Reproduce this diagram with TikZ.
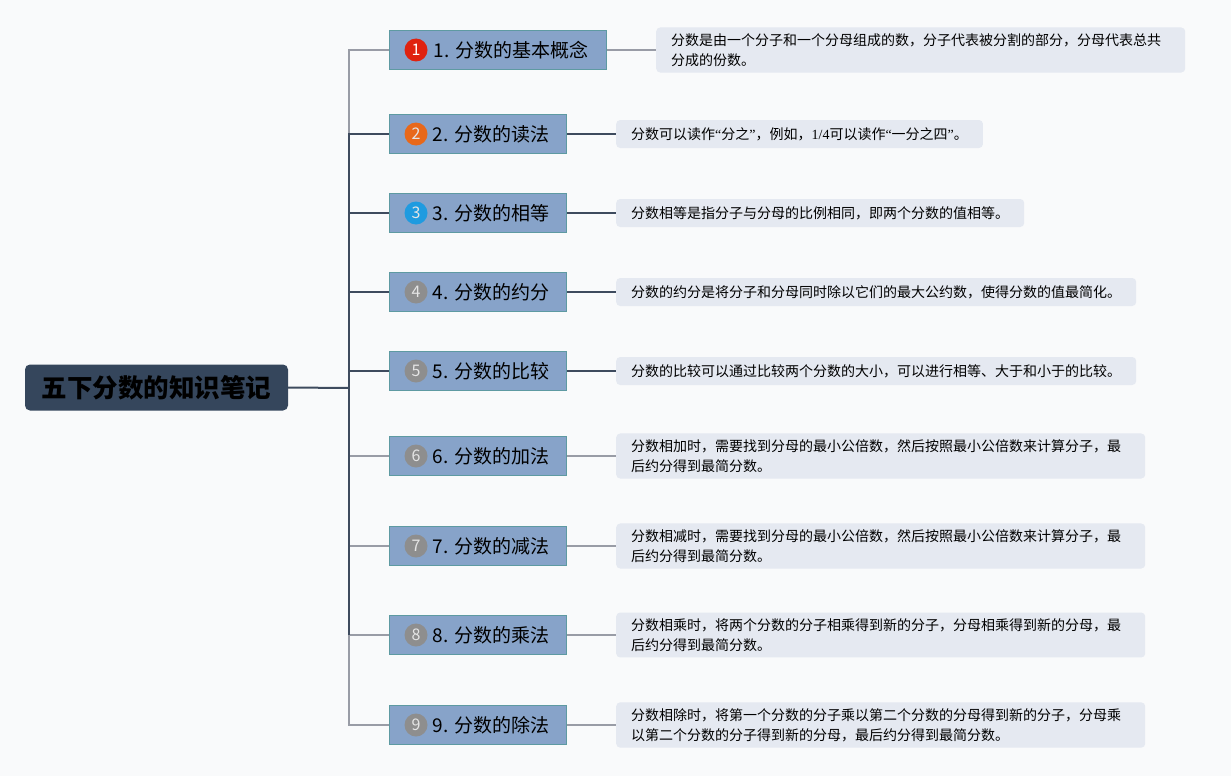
\documentclass[tikz,border=0pt]{standalone}
\usepackage{fontspec}
\setmainfont{Noto Sans CJK SC}
\newfontfamily\latinserif{Liberation Serif}
\usetikzlibrary{positioning}

\definecolor{bgcol}{HTML}{F9FAFB}
\definecolor{rootcol}{HTML}{35465C}
\definecolor{topiccol}{HTML}{87A3C9}
\definecolor{topicedge}{HTML}{5E9AA2}
\definecolor{notecol}{HTML}{E5E9F1}
\definecolor{linedark}{HTML}{3E4B5E}
\definecolor{linegray}{HTML}{999CA6}
\definecolor{badgered}{HTML}{E0220F}
\definecolor{badgeorange}{HTML}{E8681A}
\definecolor{badgeblue}{HTML}{1F9BE0}
\definecolor{badgegray}{HTML}{8E8E8E}

\begin{document}
\begin{tikzpicture}[x=1pt, y=-1pt,
    root/.style={fill=rootcol, rounded corners=5pt, minimum width=263pt, minimum height=46pt,
      font=\bfseries\fontsize{25.5}{30}\selectfont, text=black},
    topic/.style={fill=topiccol, draw=topicedge, line width=1pt, anchor=west, minimum height=39pt,
      minimum width=177pt, inner xsep=4pt, font=\fontsize{19}{23}\selectfont},
    badge/.style={circle, minimum size=23pt, inner sep=0pt, text=white!80!gray,
      font=\fontsize{16}{16}\selectfont},
    note/.style={fill=notecol, rounded corners=4pt, anchor=west, minimum height=28pt,
      inner xsep=15pt, inner ysep=6pt, align=left, font=\fontsize{14}{20}\selectfont},
    dark/.style={draw=linedark, line width=1.3pt},
    light/.style={draw=linegray, line width=1.3pt}]
  \useasboundingbox[fill=bgcol] (0,0) rectangle (1231,776);

  % root
  \node[root] (root) at (156.5,387.5) {五下分数的知识笔记};
  \coordinate (hub) at (349,388);

  % topics
  \node[topic, minimum width=217pt] (b1) at (389,50) {\hspace*{26pt}1. 分数的基本概念};
  \node[topic] (b2) at (389,134) {\hspace*{26pt}2. 分数的读法};
  \node[topic] (b3) at (389,213) {\hspace*{26pt}3. 分数的相等};
  \node[topic] (b4) at (389,292) {\hspace*{26pt}4. 分数的约分};
  \node[topic] (b5) at (389,371) {\hspace*{26pt}5. 分数的比较};
  \node[topic] (b6) at (389,456) {\hspace*{26pt}6. 分数的加法};
  \node[topic] (b7) at (389,546) {\hspace*{26pt}7. 分数的减法};
  \node[topic] (b8) at (389,635) {\hspace*{26pt}8. 分数的乘法};
  \node[topic] (b9) at (389,725) {\hspace*{26pt}9. 分数的除法};

  % badges
  \node[badge, fill=badgered, text=white] (n1) at ([xshift=27pt]b1.west) {1};
  \node[badge, fill=badgeorange] (n2) at ([xshift=27pt]b2.west) {2};
  \node[badge, fill=badgeblue] (n3) at ([xshift=27pt]b3.west) {3};
  \foreach \i in {4,...,9}
    \node[badge, fill=badgegray] (n\i) at ([xshift=27pt]b\i.west) {\i};

  % notes
  \node[note, text width=499pt] (d1) at (656,50) {分数是由一个分子和一个分母组成的数，分子代表被分割的部分，分母代表总共\\分成的份数。};
  \node[note] (d2) at (616,134) {分数可以读作{\latinserif “}分之{\latinserif ”}，例如，{\latinserif 1/4}可以读作{\latinserif “}一分之四{\latinserif ”}。};
  \node[note] (d3) at (616,213) {分数相等是指分子与分母的比例相同，即两个分数的值相等。};
  \node[note] (d4) at (616,292) {分数的约分是将分子和分母同时除以它们的最大公约数，使得分数的值最简化。};
  \node[note] (d5) at (616,371) {分数的比较可以通过比较两个分数的大小，可以进行相等、大于和小于的比较。};
  \node[note, text width=499pt] (d6) at (616,456) {分数相加时，需要找到分母的最小公倍数，然后按照最小公倍数来计算分子，最\\后约分得到最简分数。};
  \node[note, text width=499pt] (d7) at (616,546) {分数相减时，需要找到分母的最小公倍数，然后按照最小公倍数来计算分子，最\\后约分得到最简分数。};
  \node[note, text width=499pt] (d8) at (616,635) {分数相乘时，将两个分数的分子相乘得到新的分子，分母相乘得到新的分母，最\\后约分得到最简分数。};
  \node[note, text width=499pt] (d9) at (616,725) {分数相除时，将第一个分数的分子乘以第二个分数的分母得到新的分子，分母乘\\以第二个分数的分子得到新的分母，最后约分得到最简分数。};

  % connectors
  \foreach \i in {1,6,7,8,9} {
    \draw[light] (hub) |- (b\i.west);
    \draw[light] (b\i.east) -- (d\i.west);
  }
  \foreach \i in {2,...,5} {
    \draw[dark] (hub) |- (b\i.west);
    \draw[dark] (b\i.east) -- (d\i.west);
  }
  \draw[dark, line width=2pt] (hub |- b2.west) -- (hub |- b8.west);
  \draw[dark, line width=2pt] (root.east) -- (hub);
\end{tikzpicture}
\end{document}
